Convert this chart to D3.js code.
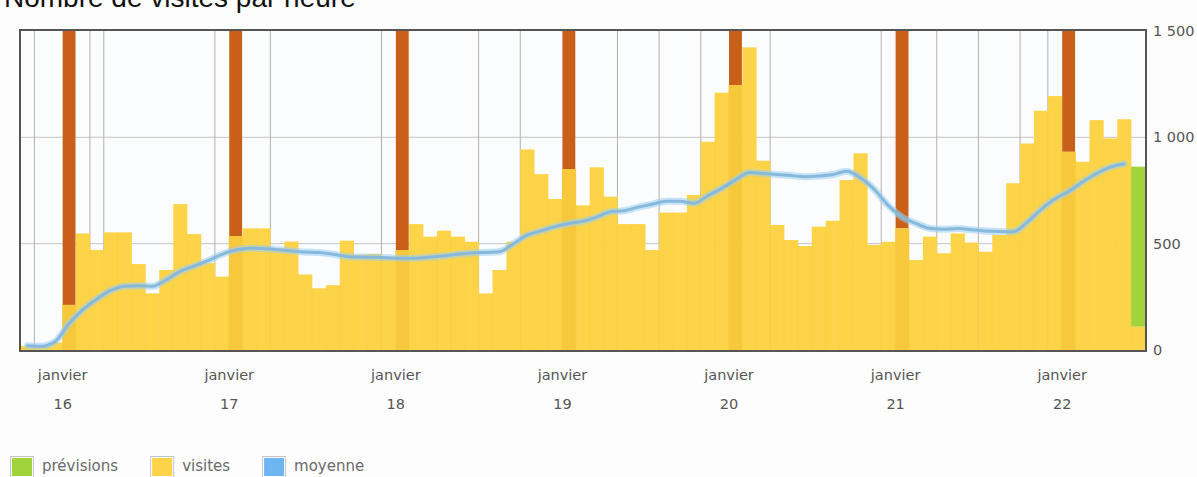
<!DOCTYPE html>
<html>
<head>
<meta charset="utf-8">
<script src="https://cdn.jsdelivr.net/npm/d3@7"></script>
<style>
  body { margin: 0; background: #fdfdfd; }
  text { font-family: "DejaVu Sans", Verdana, sans-serif; }
</style>
</head>
<body>
<svg width="1197" height="477"></svg>
<script>
// Data: one bar every 2 hours, from 15 Jan 18:00 to 22 Jan 10:00
var visites = [20, 15, 35, 212, 548, 470, 553, 553, 404, 266, 376, 686, 545, 409, 345,
  536, 572, 572, 478, 510, 355, 290, 305, 514, 448, 452, 438,
  470, 592, 533, 561, 533, 509, 266, 376, 509, 943, 827, 710,
  851, 680, 859, 721, 592, 592, 470, 646, 646, 729, 979, 1210,
  1246, 1423, 890, 588, 517, 489, 580, 608, 799, 925, 494, 509,
  572, 423, 533, 455, 548, 505, 462, 541, 784, 971, 1125, 1194,
  932, 885, 1081, 995, 1085, 110];

var moyenne = [20, 18, 40, 125, 190, 240, 280, 300, 302, 300, 330, 370, 395, 420, 450,
  470, 479, 477, 472, 466, 461, 458, 450, 440, 437, 436, 434,
  432, 432, 437, 442, 450, 456, 459, 462, 500, 540, 560, 580,
  595, 605, 625, 650, 655, 672, 685, 700, 700, 690, 725, 760,
  800, 835, 830, 825, 820, 815, 818, 825, 840, 810, 755, 680,
  625, 595, 572, 568, 571, 565, 560, 557, 556, 600, 660, 710,
  745, 790, 830, 860, 875];

// forecast for the current (last) slot
var previsionTotal = 862;

// bar indices where a vertical marker line is drawn
var reperes = [1, 5, 6, 14, 18, 26, 33, 36, 43, 46, 49, 54, 62, 66, 69, 72, 74];

var mois = "janvier";
var jours = ["16", "17", "18", "19", "20", "21", "22"];
var yTicks = [0, 500, 1000, 1500];
var legende = ["prévisions", "visites", "moyenne"];

var couleurs = {
  "prévisions": "#a0d43a",
  "visites": "#fdd447",
  "moyenne": "#6eb6f2"
};

var svg = d3.select("svg");

var t0 = new Date(2013, 0, 15, 18);
var slot = function(i) { return d3.timeHour.offset(t0, 2 * i); };

var x = d3.scaleTime()
    .domain([t0, slot(visites.length)])
    .range([20.5, 1145]);

var y = d3.scaleLinear()
    .domain([0, 1500])
    .range([350, 31]);

var bars = visites.map(function(v, i) { return { t: slot(i), v: v, i: i }; });

// title (cut off at the top, as in the page capture)
svg.append("text")
    .attr("x", 4)
    .attr("y", 7)
    .style("font-family", "'Liberation Sans', Arial, sans-serif")
    .style("font-size", "28px")
    .attr("fill", "#111")
    .text("Nombre de visites par heure");

// plot background
svg.append("rect")
    .attr("x", 20).attr("y", 30)
    .attr("width", 1126).attr("height", 321)
    .attr("fill", "#fbfcfd");

// horizontal grid
svg.append("g")
    .selectAll("line")
    .data([500, 1000])
    .enter().append("line")
    .attr("x1", 20.5).attr("x2", 1145)
    .attr("y1", function(d) { return y(d); })
    .attr("y2", function(d) { return y(d); })
    .attr("stroke", "#c4c4c4");

// vertical marker lines
svg.append("g")
    .selectAll("line")
    .data(reperes)
    .enter().append("line")
    .attr("x1", function(d) { return x(slot(d)); })
    .attr("x2", function(d) { return x(slot(d)); })
    .attr("y1", 31).attr("y2", 350)
    .attr("stroke", "#b4b0ac");

var bw = function(d) { return x(slot(d.i + 1)) - x(d.t); };

// orange columns at midnight (above the bar)
svg.append("g")
    .selectAll("rect")
    .data(bars.filter(function(d) { return d.t.getHours() === 0; }))
    .enter().append("rect")
    .attr("x", function(d) { return x(d.t) + 0.5; })
    .attr("width", function(d) { return bw(d) - 1; })
    .attr("y", y(1500))
    .attr("height", function(d) { return y(d.v) - y(1500); })
    .attr("fill", "#c9601a");

// visits
svg.append("g")
    .selectAll("rect")
    .data(bars)
    .enter().append("rect")
    .attr("x", function(d) { return x(d.t); })
    .attr("width", function(d) { return bw(d) + 0.3; })
    .attr("y", function(d) { return y(d.v); })
    .attr("height", function(d) { return y(0) - y(d.v); })
    .attr("fill", function(d) { return d.t.getHours() === 0 ? "#f8c83c" : couleurs["visites"]; });

// faint separators between bars
svg.append("g")
    .selectAll("line")
    .data(bars.slice(1))
    .enter().append("line")
    .attr("x1", function(d) { return x(d.t); })
    .attr("x2", function(d) { return x(d.t); })
    .attr("y1", function(d) { return y(Math.min(d.v, visites[d.i - 1])); })
    .attr("y2", 350)
    .attr("stroke", "#f6cc44")
    .attr("stroke-opacity", 0.6);

// forecast on the last slot
var last = bars[bars.length - 1];
svg.append("rect")
    .attr("x", x(last.t))
    .attr("width", bw(last))
    .attr("y", y(previsionTotal))
    .attr("height", y(last.v) - y(previsionTotal))
    .attr("fill", couleurs["prévisions"]);

// moving average
var line = d3.line()
    .x(function(d, i) { return x(slot(i)) + bw(bars[i]) / 2; })
    .y(function(d) { return y(d); })
    .curve(d3.curveMonotoneX);

svg.append("path")
    .datum(moyenne)
    .attr("d", line)
    .attr("fill", "none")
    .attr("stroke", "#9ccdf3")
    .attr("stroke-opacity", 0.55)
    .attr("stroke-width", 7)
    .attr("stroke-linecap", "round");

svg.append("path")
    .datum(moyenne)
    .attr("d", line)
    .attr("fill", "none")
    .attr("stroke", "#86b9dc")
    .attr("stroke-width", 3)
    .attr("stroke-linecap", "round");

// frame
svg.append("rect")
    .attr("x", 20).attr("y", 30)
    .attr("width", 1126).attr("height", 321)
    .attr("fill", "none")
    .attr("stroke", "#555")
    .attr("stroke-width", 2);

// x axis: one label per day at midnight
var dayTicks = d3.timeDay.range(d3.timeDay.ceil(t0), slot(visites.length));
var gx = svg.append("g")
    .attr("transform", "translate(0,350)")
    .call(d3.axisBottom(x).tickValues(dayTicks).tickSize(0).tickFormat(""));
gx.select(".domain").remove();
gx.selectAll(".tick").each(function(d, i) {
    var t = d3.select(this).append("text")
        .attr("fill", "#555")
        .attr("text-anchor", "middle")
        .style("font-size", "14.5px");
    t.append("tspan").attr("x", 0).attr("y", 30).text(mois);
    t.append("tspan").attr("x", 0).attr("y", 59).text(jours[i]);
});

// y axis on the right
var fr = d3.formatLocale({ decimal: ",", thousands: " ", grouping: [3], currency: ["", " €"] });
var gy = svg.append("g")
    .attr("transform", "translate(1150,0)")
    .call(d3.axisRight(y).tickValues(yTicks).tickSize(0).tickPadding(3).tickFormat(fr.format(",d")));
gy.select(".domain").remove();
gy.selectAll("text")
    .attr("fill", "#555")
    .style("font-family", "'DejaVu Sans', Verdana, sans-serif")
    .style("font-size", "14.5px");

// legend
var lx = 10;
legende.forEach(function(name) {
    var g = svg.append("g").attr("transform", "translate(" + lx + ",456)");
    g.append("rect")
        .attr("x", 0.5).attr("y", 0.5)
        .attr("width", 23).attr("height", 21)
        .attr("fill", "#fff")
        .attr("stroke", "#c4c4c4");
    g.append("rect")
        .attr("x", 2).attr("y", 2)
        .attr("width", 20).attr("height", 18)
        .attr("fill", couleurs[name]);
    var t = g.append("text")
        .attr("x", 32).attr("y", 15)
        .attr("fill", "#6a6a6a")
        .style("font-size", "15px")
        .text(name);
    lx += 32 + t.node().getComputedTextLength() + 32;
});
</script>
</body>
</html>
